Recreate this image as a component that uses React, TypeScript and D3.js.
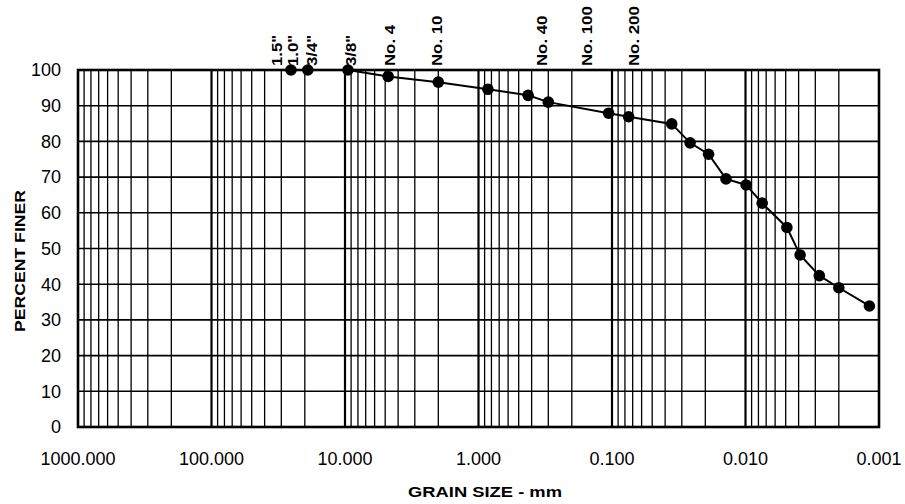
import React from "react";
import { scaleLog, scaleLinear, line } from "d3";

// grain size distribution
const grainSize = [
  25.4, 19.0, 9.5, 4.75, 2.0, 0.85, 0.425, 0.3, 0.106, 0.075, 0.0357, 0.026,
  0.0189, 0.014, 0.0099, 0.0075, 0.0049, 0.0039, 0.0028, 0.002, 0.00118,
];
const percentFiner = [
  100, 100, 100, 98.2, 96.6, 94.6, 92.9, 91.0, 87.9, 86.9, 84.9, 79.6, 76.4,
  69.5, 67.8, 62.7, 55.9, 48.2, 42.4, 39.0, 33.9,
];

// sieve names along the top and where they sit on the sheet (mm)
const sieveNames = ['1.5"', '1.0"', '3/4"', '3/8"', "No. 4", "No. 10", "No. 40", "No. 100", "No. 200"];
const sieveAt = [32.5, 24.5, 17.7, 9.0, 4.6, 2.05, 0.336, 0.154, 0.068];

const xTicks = [1000, 100, 10, 1, 0.1, 0.01, 0.001];
const yTicks = [0, 10, 20, 30, 40, 50, 60, 70, 80, 90, 100];

const W = 905;
const H = 504;
const m = { left: 78, right: 879, top: 70, bottom: 427 };
const font = "'Liberation Sans', Arial, sans-serif";

const App = () => {
  const x = scaleLog().domain([1000, 0.001]).range([m.left, m.right]);
  const y = scaleLinear().domain([0, 100]).range([m.bottom, m.top]);

  // minor lines 2..9 in each decade
  const minor: number[] = [];
  xTicks.slice(1).forEach((d) => {
    for (let k = 2; k <= 9; k++) minor.push(d * k);
  });
  const inner = xTicks.slice(1, -1);

  const pts = grainSize.map((g, i) => [x(g), y(percentFiner[i])] as [number, number]);
  const path = line()(pts) || "";

  return (
    <svg
      width={W}
      height={H}
      style={{ position: "absolute", left: 0, top: 0, background: "#fff" }}
      fontFamily={font}
    >
      <g stroke="#000" fill="none">
        {minor.map((d, i) => (
          <line key={"mn" + i} x1={x(d)} x2={x(d)} y1={m.top} y2={m.bottom} strokeWidth={1.3} />
        ))}
        {inner.map((d, i) => (
          <line key={"dc" + i} x1={x(d)} x2={x(d)} y1={m.top} y2={m.bottom} strokeWidth={2.2} />
        ))}
        {yTicks.slice(1, -1).map((t) => (
          <line key={"h" + t} x1={m.left} x2={m.right} y1={y(t)} y2={y(t)} strokeWidth={1.6} />
        ))}
        <rect
          x={m.left}
          y={m.top}
          width={m.right - m.left}
          height={m.bottom - m.top}
          strokeWidth={2.6}
        />
      </g>

      <path d={path} fill="none" stroke="#000" strokeWidth={2} />
      {pts.map((p, i) => (
        <circle key={"p" + i} cx={p[0]} cy={p[1]} r={5.8} fill="#000" />
      ))}

      {yTicks.map((t) => (
        <text key={"yt" + t} x={61} y={y(t)} dy="0.35em" textAnchor="end" fontSize={18}>
          {t}
        </text>
      ))}
      {xTicks.map((t) => (
        <text key={"xt" + t} x={x(t)} y={465} textAnchor="middle" fontSize={18}>
          {t.toFixed(3)}
        </text>
      ))}

      {sieveNames.map((s, i) => (
        <text
          key={"s" + i}
          transform={`translate(${x(sieveAt[i]) + 5},66) rotate(-90) scale(1.2,1)`}
          fontSize={14}
          fontWeight="bold"
        >
          {s}
        </text>
      ))}

      <text
        x={485}
        y={497}
        textAnchor="middle"
        fontSize={14}
        fontWeight="bold"
        textLength={154}
        lengthAdjust="spacingAndGlyphs"
      >
        GRAIN SIZE - mm
      </text>
      <text
        transform="translate(25,261) rotate(-90)"
        textAnchor="middle"
        fontSize={14}
        fontWeight="bold"
        textLength={142}
        lengthAdjust="spacingAndGlyphs"
      >
        PERCENT FINER
      </text>
    </svg>
  );
};

export default App;
